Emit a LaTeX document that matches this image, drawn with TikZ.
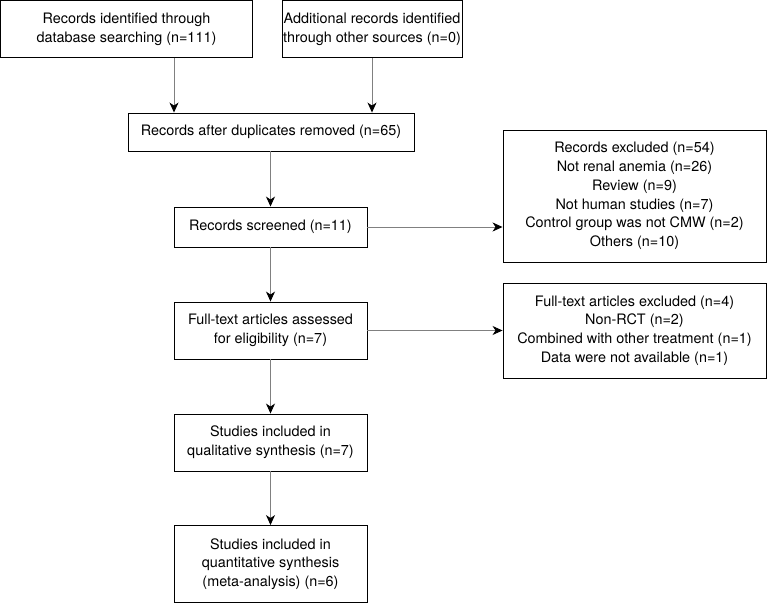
\documentclass[tikz,border=0pt]{standalone}
\usepackage{fontspec}
\setmainfont{TeX Gyre Heros}
\usetikzlibrary{arrows.meta}
\begin{document}
\begin{tikzpicture}[x=1bp,y=-1bp,
  box/.style={draw=black,line width=0.9bp,align=center,inner sep=0pt,
    font=\fontsize{14.4bp}{18.7bp}\selectfont,text=black},
  arr/.style={draw=black!50,line width=1bp,
    -{Stealth[length=10bp,width=9bp,inset=3bp,color=black]}}]
\useasboundingbox (0,0) rectangle (767,604);
\node[box,minimum width=252bp,minimum height=57bp] (A) at (126.5,29) {Records identified through\\database searching (n=111)};
\node[box,minimum width=180bp,minimum height=57bp] (B) at (372,29) {Additional records identified\\through other sources (n=0)};
\node[box,minimum width=286bp,minimum height=38bp] (C) at (271,132) {Records after duplicates removed (n=65)};
\node[box,minimum width=193bp,minimum height=40bp] (D) at (270.5,227) {Records screened (n=11)};
\node[box,minimum width=263bp,minimum height=132bp] (E) at (634.5,196) {Records excluded (n=54)\\Not renal anemia (n=26)\\Review (n=9)\\Not human studies (n=7)\\Control group was not CMW (n=2)\\Others (n=10)};
\node[box,minimum width=193bp,minimum height=57bp] (F) at (270.5,330.5) {Full-text articles assessed\\for eligibility (n=7)};
\node[box,minimum width=263bp,minimum height=95bp] (G) at (634.5,330.5) {Full-text articles excluded (n=4)\\Non-RCT (n=2)\\Combined with other treatment (n=1)\\Data were not available (n=1)};
\node[box,minimum width=193bp,minimum height=57bp] (H) at (270.5,442.5) {Studies included in\\qualitative synthesis (n=7)};
\node[box,minimum width=193bp,minimum height=77bp] (I) at (270.5,564) {Studies included in\\quantitative synthesis\\(meta-analysis) (n=6)};
\coordinate (a1) at ([xshift=47.5bp]A.south);
\draw[arr] (a1) -- (a1 |- C.north);
\draw[arr] (B.south) -- (B.south |- C.north);
\draw[arr] (D.north |- C.south) -- (D.north);
\draw[arr] (D.east) -- (D.east -| E.west);
\draw[arr] (D.south) -- (F.north);
\draw[arr] (F.east) -- (F.east -| G.west);
\draw[arr] (F.south) -- (H.north);
\draw[arr] (H.south) -- (I.north);
\end{tikzpicture}
\end{document}
